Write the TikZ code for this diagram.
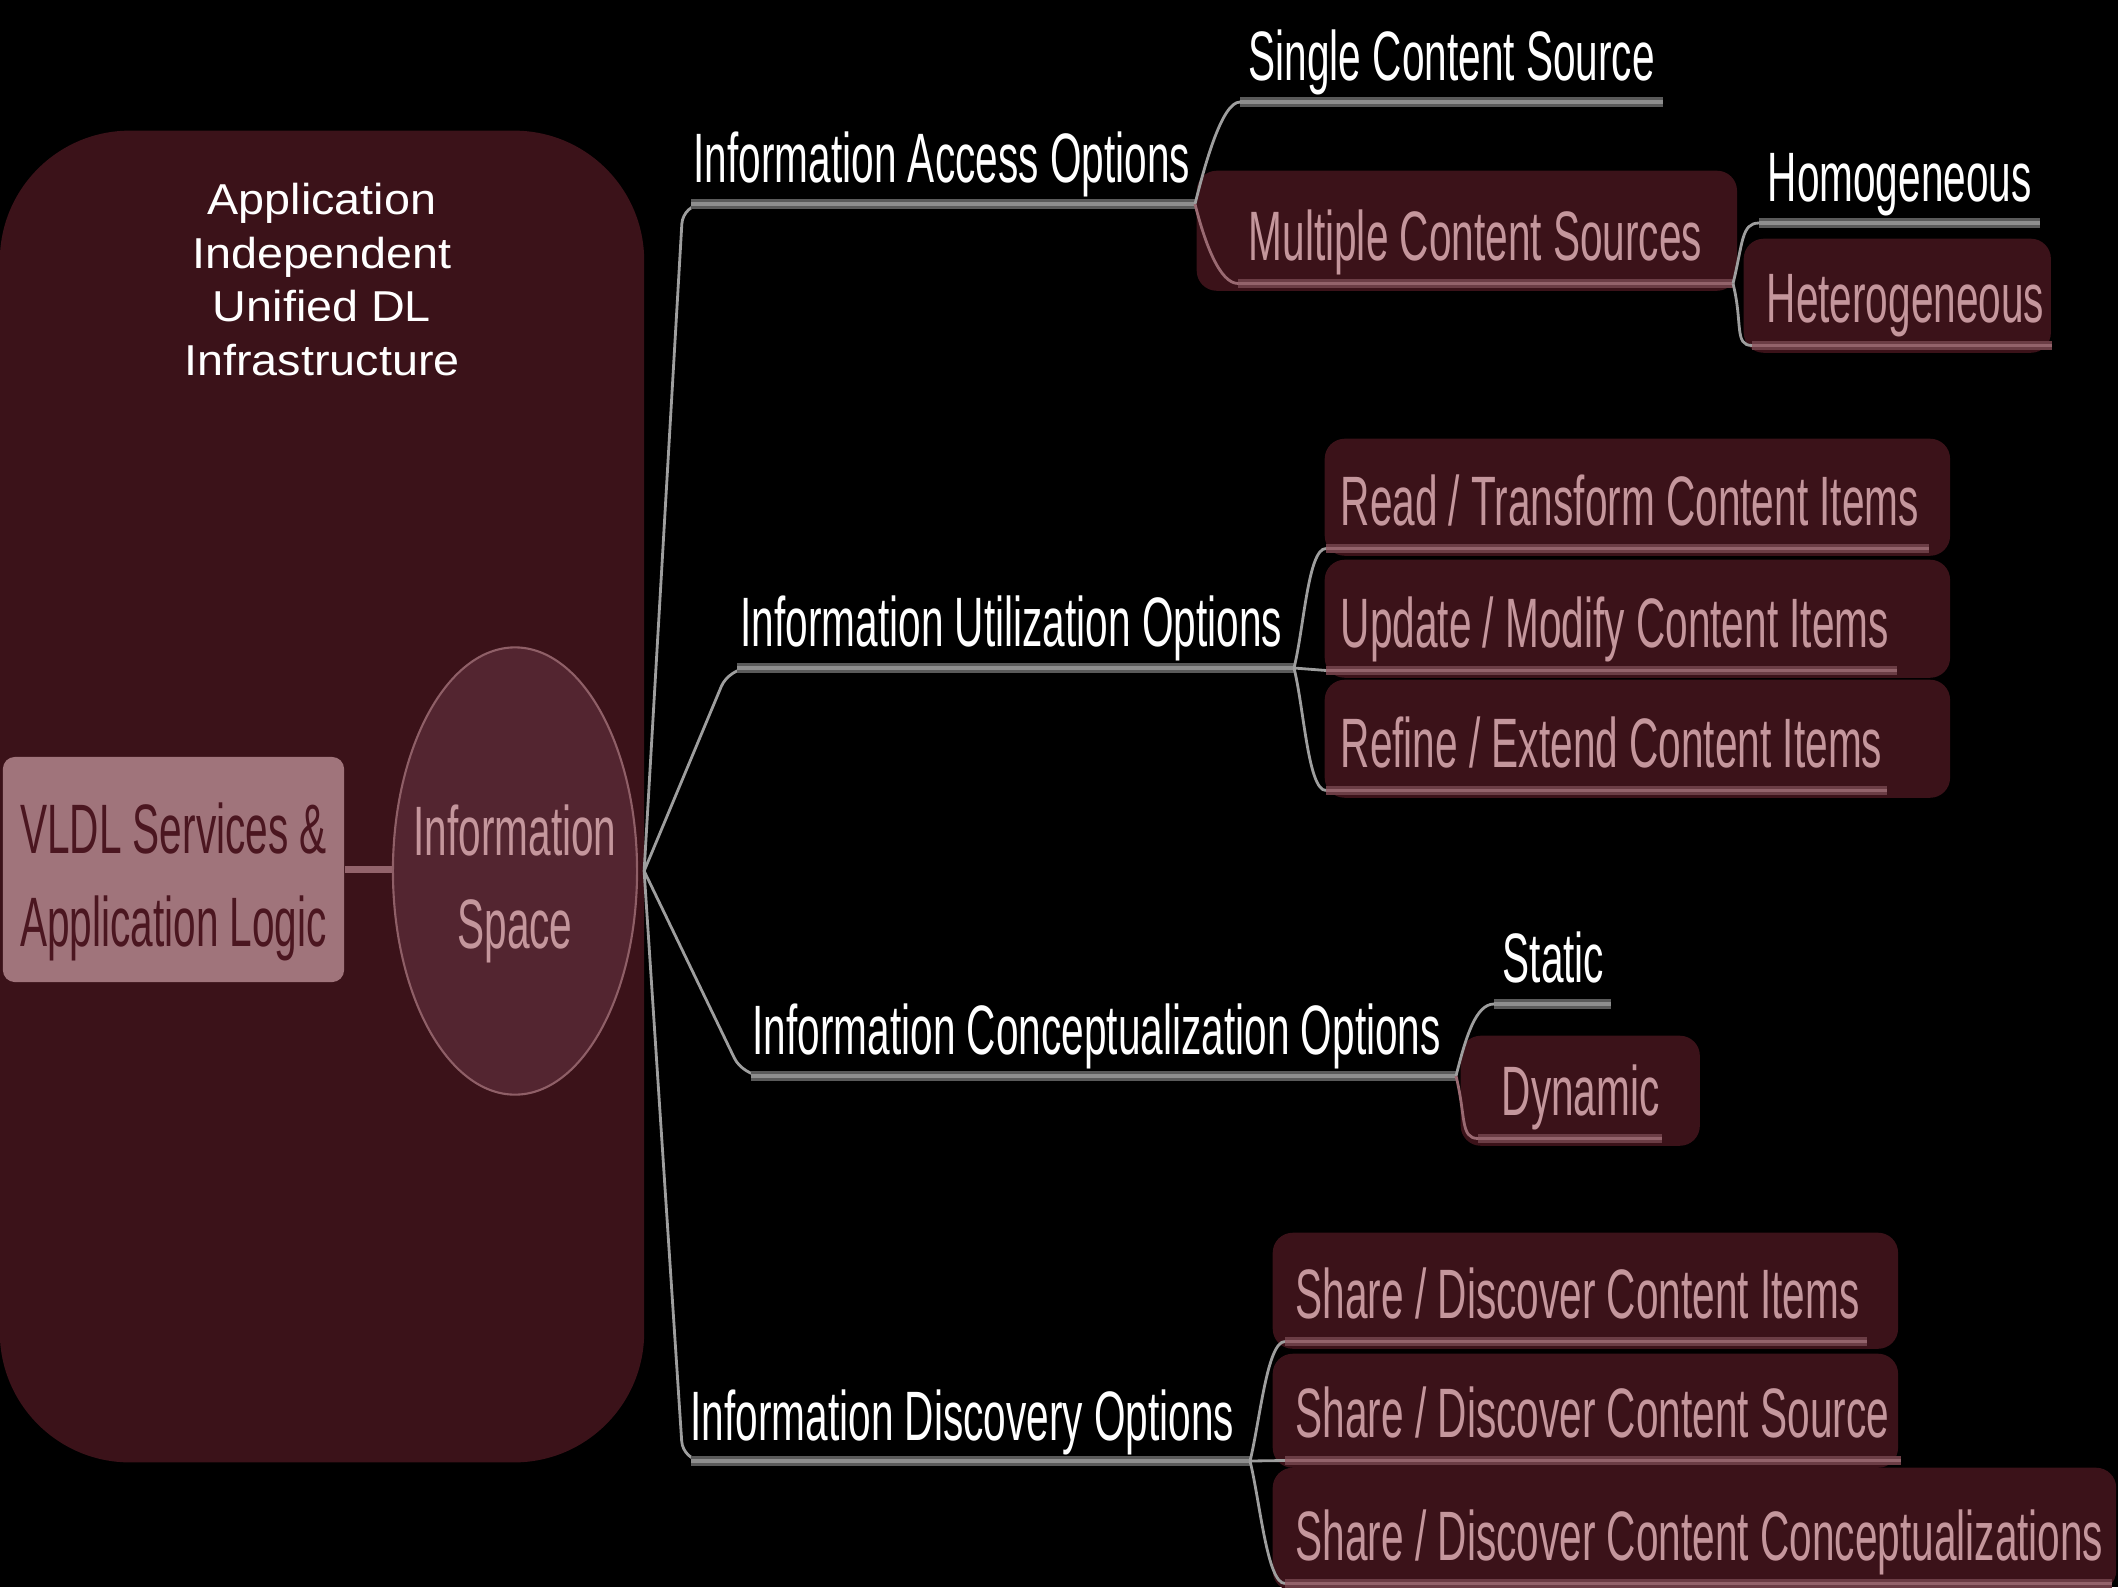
\documentclass[tikz,border=0pt]{standalone}
\usepackage{fontspec}
\setmainfont{Liberation Sans}
\newfontfamily\narrowf[FakeStretch=0.58]{Liberation Sans}
\newfontfamily\titlef[FakeStretch=1.08]{Liberation Sans}
\usetikzlibrary{shapes.geometric,calc}
\definecolor{boxfill}{HTML}{3B1219}
\definecolor{ellfill}{HTML}{532530}
\definecolor{ellline}{HTML}{8F5F67}
\definecolor{vldlfill}{HTML}{A0747B}
\definecolor{vldltxt}{HTML}{4B1620}
\definecolor{pinktxt}{HTML}{C4969C}
\definecolor{pinkdark}{HTML}{6B3D45}
\definecolor{pinklight}{HTML}{93636B}
\definecolor{graydark}{HTML}{5A5A5A}
\definecolor{graylight}{HTML}{8E8E8E}
\definecolor{thingray}{HTML}{9E9E9E}
\definecolor{pinkthin}{HTML}{9A6A72}
\newcommand{\mmfont}{\narrowf\fontsize{19.9pt}{26.5pt}\selectfont}
\begin{document}
\begin{tikzpicture}[x=0.01cm,y=-0.01cm,
  lbl/.style={inner sep=0pt, anchor=base west, text=white, font=\mmfont},
  tbox/.style={inner sep=0pt, anchor=north west, fill=boxfill, rounded corners=0.2cm, text=pinktxt, font=\mmfont, text depth=0.30cm},
  gband/.style={draw=graydark, line width=1pt, double=graylight, double distance=1pt},
  pband/.style={draw=pinkdark, line width=0.8pt, double=pinklight, double distance=0.9pt},
  thinc/.style={draw=thingray, line width=0.8pt},
  pthin/.style={draw=pinkthin, line width=0.8pt},
  brup/.style={to path={.. controls ($(\tikztostart)+(10,-40)$) and ($(\tikztotarget)+(-18,0)$) .. (\tikztotarget)}},
  brdn/.style={to path={.. controls ($(\tikztostart)+(10,40)$) and ($(\tikztotarget)+(-18,0)$) .. (\tikztotarget)}}]

\fill[black] (0,0) rectangle (2118,1587);
\useasboundingbox (0,0) rectangle (2118,1587);

% left container
\node[fill=boxfill, rounded corners=1.3cm, minimum width=6.44cm, minimum height=13.31cm, inner sep=0pt] (infra) at (322,796.5) {};
\node[text=white, font=\titlef\fontsize{12.3pt}{15.2pt}\selectfont, align=center, inner sep=0pt] (title) at (322,279.5) {Application\\Independent\\Unified DL\\Infrastructure};

\node[fill=vldlfill, rounded corners=0.12cm, minimum width=3.41cm, minimum height=2.25cm, inner sep=0pt, text=vldltxt, font=\mmfont, align=center] (vldl) at (173.5,869.5) {\rule{0pt}{0.76cm}VLDL Services \&\\Application Logic};
\node[ellipse, fill=ellfill, draw=ellline, line width=0.6pt, minimum width=2.44cm, minimum height=4.47cm, inner sep=0pt, text=pinktxt, font=\mmfont, align=center] (space) at (515,871) {\rule{0pt}{0.76cm}\makebox[0pt]{Information}\\\makebox[0pt]{Space}};

% first-level labels
\node[lbl] (iao) at (693,182) {Information Access Options};
\node[lbl] (iuo) at (740,646) {Information Utilization Options};
\node[lbl] (ico) at (752,1054) {Information Conceptualization Options};
\node[lbl] (ido) at (690,1440) {Information Discovery Options};
\node[lbl] (single) at (1248,80) {Single Content Source};
\node[lbl] (homo) at (1767,201) {Homogeneous};
\node[lbl] (static) at (1502,982) {Static};

% boxed topics
\node[tbox, text height=0.90cm] (multi) at (1196,170) {\makebox[5.40cm][l]{\hspace*{0.52cm}Multiple Content Sources}};
\node[tbox, text height=0.84cm] (hetero) at (1743,238) {\makebox[3.07cm][l]{\hspace*{0.23cm}Heterogeneous}};
\node[tbox, text height=0.87cm] (read) at (1324,438) {\makebox[6.25cm][l]{\hspace*{0.16cm}Read / Transform Content Items}};
\node[tbox, text height=0.88cm] (update) at (1324,559) {\makebox[6.25cm][l]{\hspace*{0.16cm}Update / Modify Content Items}};
\node[tbox, text height=0.88cm] (refine) at (1324,679) {\makebox[6.25cm][l]{\hspace*{0.16cm}Refine / Extend Content Items}};
\node[tbox, text height=0.80cm] (dynamic) at (1460,1035) {\makebox[2.39cm][l]{\hspace*{0.41cm}Dynamic}};
\node[tbox, text height=0.86cm] (sdi) at (1272,1232) {\makebox[6.25cm][l]{\hspace*{0.23cm}Share / Discover Content Items}};
\node[tbox, text height=0.84cm] (sds) at (1272,1353) {\makebox[6.25cm][l]{\hspace*{0.23cm}Share / Discover Content Source}};
\node[tbox, text height=0.93cm] (sdc) at (1272,1467) {\makebox[8.43cm][l]{\hspace*{0.23cm}Share / Discover Content Conceptualizations}};

% connector VLDL - Information Space
\draw[draw=pinklight, line width=1.8pt] (vldl.east) -- (vldl.east -| space.west);

% main branches
\coordinate (root) at ($(space.east)+(6,0)$);
\coordinate (k1) at (683,204);  \coordinate (iaoE) at (1195,204);
\coordinate (k2) at (729,668);  \coordinate (iuoE) at (1294,668);
\coordinate (k3) at (743,1076); \coordinate (icoE) at (1456,1076);
\coordinate (k4) at (683,1461); \coordinate (idoE) at (1250,1461);
\foreach \k/\e in {k1/iaoE,k2/iuoE,k3/icoE,k4/idoE}{
  \draw[thinc, rounded corners=0.2cm] (root) -- (\k) -- (\e);
  \draw[gband] ($(\k)+(8,0)$) -- (\e);
}

% Information Access Options children
\coordinate (singleS) at ($(single.base west)+(-8,22)$);
\draw[thinc] (iaoE) to[brup] (singleS);
\draw[gband] (singleS) -- ($(single.base east)+(7,22)$);
\coordinate (multiS) at ($(multi.south west)+(42,-8)$);
\coordinate (multiE) at ($(multi.south west)+(537,-8)$);
\draw[pthin] (iaoE) to[brdn] (multiS);
\draw[pband] (multiS) -- (multiE);
\coordinate (homoS) at ($(homo.base west)+(-8,22)$);
\draw[thinc] (multiE) to[brup] (homoS);
\draw[gband] (homoS) -- ($(homo.base east)+(8,22)$);
\coordinate (heteroS) at ($(hetero.south west)+(9,-8)$);
\draw[thinc] (multiE) to[brdn] (heteroS);
\draw[pband] (heteroS) -- ($(hetero.south east)+(0,-8)$);

% Information Utilization Options children
\coordinate (readS) at ($(read.south west)+(2,-8)$);
\draw[thinc] (iuoE) to[brup] (readS);
\draw[pband] (readS) -- ($(read.south west)+(605,-8)$);
\coordinate (updateS) at ($(update.south west)+(2,-8)$);
\draw[thinc] (iuoE) -- (updateS);
\draw[pband] (updateS) -- ($(update.south west)+(573,-8)$);
\coordinate (refineS) at ($(refine.south west)+(2,-8)$);
\draw[thinc] (iuoE) to[brdn] (refineS);
\draw[pband] (refineS) -- ($(refine.south west)+(563,-8)$);

% Information Conceptualization Options children
\coordinate (staticS) at ($(static.base west)+(-8,22)$);
\draw[thinc] (icoE) to[brup] (staticS);
\draw[gband] (staticS) -- ($(static.base east)+(6,22)$);
\coordinate (dynS) at ($(dynamic.south west)+(18,-8)$);
\draw[pthin] (icoE) to[brdn] (dynS);
\draw[pband] (dynS) -- ($(dynamic.south west)+(202,-8)$);

% Information Discovery Options children
\coordinate (sdiS) at ($(sdi.south west)+(13,-8)$);
\draw[thinc] (idoE) to[brup] (sdiS);
\draw[pband] (sdiS) -- ($(sdi.south west)+(595,-8)$);
\coordinate (sdsS) at ($(sds.south west)+(13,-8)$);
\draw[thinc] (idoE) -- (sdsS);
\draw[pband] (sdsS) -- ($(sds.south west)+(629,-8)$);
\coordinate (sdcS) at ($(sdc.south west)+(13,-8)$);
\draw[thinc] (idoE) to[brdn] (sdcS);
\draw[pband] (sdcS) -- ($(sdc.south west)+(840,-8)$);
\end{tikzpicture}
\end{document}
